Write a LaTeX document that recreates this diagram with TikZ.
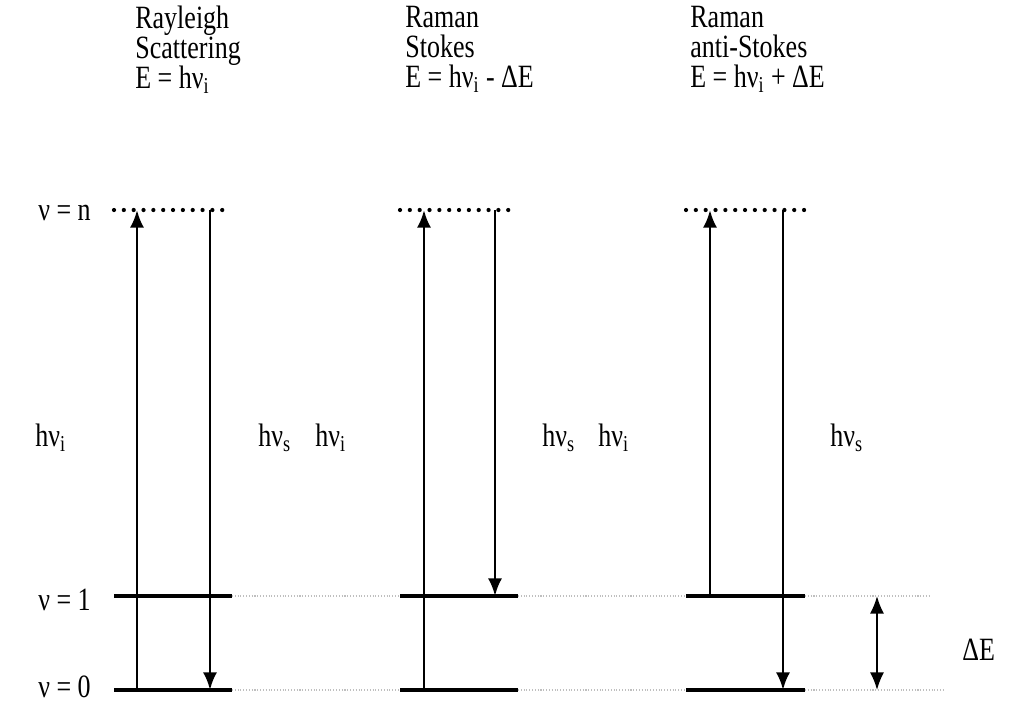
\documentclass[tikz,border=0pt]{standalone}
\usepackage{fontspec}
\setmainfont{Liberation Serif}[FakeStretch=0.8]
\usetikzlibrary{arrows.meta,positioning}
\tikzset{
  level/.style={line width=2.2pt},
  virt/.style={line width=2.4pt,line cap=round,dash pattern=on 0pt off 5.6pt},
  guide/.style={gray!50,densely dotted,line width=0.6pt},
  trans/.style={->,line width=1.6pt},
  lbl/.style={anchor=west,inner sep=0pt,font=\fontsize{18.5}{17}\selectfont},
  head/.style={anchor=north west,inner sep=0pt,align=left,font=\fontsize{18.5}{17.07}\selectfont}
}
\newcommand{\textnu}{ν}
\newcommand{\hnu}[1]{h\textnu\textsubscript{#1}}

\begin{document}
\begin{tikzpicture}[>={Latex[length=10pt,width=8pt]},x=0.02cm,y=-0.02cm]
\useasboundingbox (0,0) rectangle (1010,707);
% titles
\node[head] (ray) at (135,6) {Rayleigh\\Scattering\\E = \hnu{i}};
\node[head] (sto) at (405,6) {Raman\\Stokes\\E = \hnu{i} - ΔE};
\node[head] (ant) at (690,6) {Raman\\anti-Stokes\\E = \hnu{i} + ΔE};
% level labels
\node[lbl] (ln) at (38,213) {ν = n};
\node[lbl] (l1) at (38,600) {ν = 1};
\node[lbl] (l0) at (38,687) {ν = 0};
% photon labels
\node[lbl] (hi1) at (35,438) {\hnu{i}};
\node[lbl] (hs1) at (258,438) {\hnu{s}};
\node[lbl] (hi2) at (315,438) {\hnu{i}};
\node[lbl] (hs2) at (542,438) {\hnu{s}};
\node[lbl] (hi3) at (598,438) {\hnu{i}};
\node[lbl] (hs3) at (830,438) {\hnu{s}};
\node[lbl] (de) at (962,650) {ΔE};
% levels
\foreach \n/\a/\b in {r/114/232,s/400/518,a/686/805}{
  \coordinate (\n n1) at (\a,210); \coordinate (\n n2) at (\b,210);
  \coordinate (\n 11) at (\a,596); \coordinate (\n 12) at (\b,596);
  \coordinate (\n 01) at (\a,690); \coordinate (\n 02) at (\b,690);
  \draw[virt] (\n n1) -- (\n n2);
  \draw[level] (\n 11) -- (\n 12);
  \draw[level] (\n 01) -- (\n 02);
}
\coordinate (e1) at (930,596);
\coordinate (e0) at (945,690);
\draw[guide] (r12) -- (s11) (s12) -- (a11) (a12) -- (e1);
\draw[guide] (r02) -- (s01) (s02) -- (a01) (a02) -- (e0);
% transitions
\coordinate (ru0) at (137,690); \coordinate (run) at (137,210);
\coordinate (rdn) at (210,210); \coordinate (rd0) at (210,690);
\coordinate (su0) at (424,690); \coordinate (sun) at (424,210);
\coordinate (sdn) at (495,210); \coordinate (sd1) at (495,596);
\coordinate (au1) at (710,596); \coordinate (aun) at (710,210);
\coordinate (adn) at (783,210); \coordinate (ad0) at (783,690);
\draw[trans] (ru0) -- (run);
\draw[trans] (rdn) -- (rd0);
\draw[trans] (su0) -- (sun);
\draw[trans] (sdn) -- (sd1);
\draw[trans] (au1) -- (aun);
\draw[trans] (adn) -- (ad0);
\coordinate (g1) at (877,596); \coordinate (g0) at (877,690);
\draw[<->,line width=1.1pt] (g1) -- (g0);
\end{tikzpicture}
\end{document}
